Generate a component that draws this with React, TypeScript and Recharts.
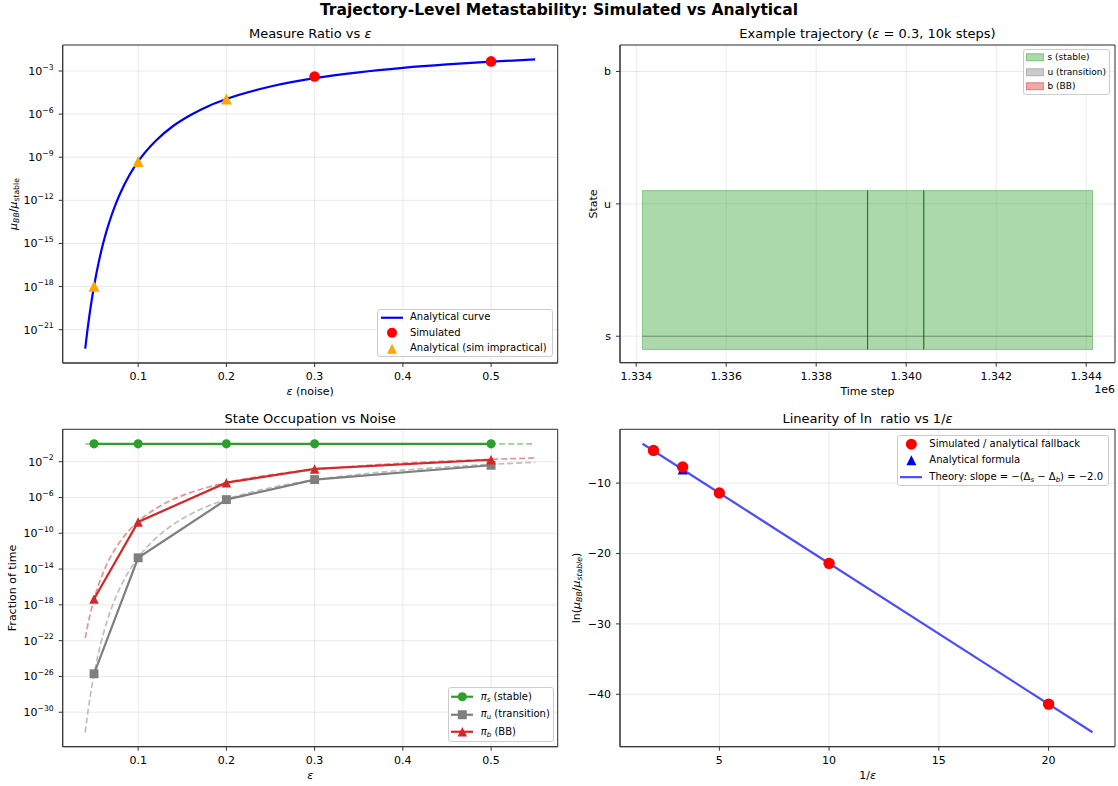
import React from "react"
import {
  ComposedChart,
  Line,
  Scatter,
  XAxis,
  YAxis,
  CartesianGrid,
  Legend,
  ReferenceArea,
  ReferenceLine,
} from "recharts"

const FONT = "'DejaVu Sans', sans-serif"
const PAGE_W = 1118
const PAGE_H = 786

// ---------- panel 1: measure ratio vs eps (values are log10 of mu_BB / mu_stable)
const epsCurve = [0.04, 0.0425, 0.045, 0.0475, 0.05, 0.055, 0.06, 0.065, 0.07, 0.075, 0.08, 0.09, 0.1, 0.12, 0.14, 0.16, 0.18, 0.2, 0.25, 0.3, 0.35, 0.4, 0.45, 0.5, 0.55]
const ratioCurveLog10 = [-22.32, -21.05, -19.91, -18.89, -17.98, -16.4, -15.08, -13.97, -13.02, -12.19, -11.47, -10.26, -9.29, -7.85, -6.81, -6.04, -5.43, -4.95, -4.08, -3.5, -3.09, -2.78, -2.54, -2.35, -2.19]
const epsSimulated = [0.3, 0.5]
const ratioSimulatedLog10 = [-3.38, -2.33]
const epsAnalytical = [0.05, 0.1, 0.2]
const ratioAnalyticalLog10 = [-17.98, -9.29, -4.95]

// ---------- panel 2: example trajectory
const segmentStarts = [1334140, 1339142, 1340390]
const segmentEnds = [1339142, 1340390, 1344140]
const segmentStates = [0, 0, 0]
const transitionTimes = [1339142, 1340390]
const stateLabels = ["s", "u", "b"]

// ---------- panel 3: state occupation (log10 of fraction of time)
const epsSim = [0.05, 0.1, 0.2, 0.3, 0.5]
const piSLog10 = [0, 0, 0, 0, 0]
const piULog10 = [-25.7, -12.74, -6.24, -4.0, -2.4]
const piBLog10 = [-17.35, -8.73, -4.34, -2.81, -1.78]
const epsStableTheory = [0.04, 0.55]
const piSTheoryLog10 = [0, 0]
const piUTheoryLog10 = [-32.27, -30.35, -28.65, -27.12, -25.75, -23.38, -21.41, -19.74, -18.31, -17.07, -15.98, -14.17, -12.72, -10.55, -9.0, -7.84, -6.93, -6.21, -4.91, -4.04, -3.42, -2.95, -2.59, -2.3, -2.07]
const piBTheoryLog10 = [-21.71, -20.44, -19.3, -18.29, -17.37, -15.79, -14.48, -13.36, -12.41, -11.58, -10.86, -9.65, -8.69, -7.24, -6.2, -5.43, -4.83, -4.34, -3.47, -2.9, -2.48, -2.17, -1.93, -1.74, -1.58]

// ---------- panel 4: ln ratio vs 1/eps
const invEpsSim = [2, 3.33, 5, 10, 20]
const lnRatioSim = [-5.35, -7.7, -11.4, -21.4, -41.4]
const invEpsAnalytic = [3.33]
const lnRatioAnalytic = [-8.07]
const invEpsTheory = [1.5, 22]
const lnRatioTheory = [-4.4, -45.4]

// ticks
const epsTicks = [0.1, 0.2, 0.3, 0.4, 0.5]
const ratioTickExps = [-21, -18, -15, -12, -9, -6, -3]
const occTickExps = [-30, -26, -22, -18, -14, -10, -6, -2]
const timeTicks = [1334000, 1336000, 1338000, 1340000, 1342000, 1344000]
const stateTicks = [0, 1, 2]
const invEpsTicks = [5, 10, 15, 20]
const lnTicks = [-40, -30, -20, -10]

const pts = (xs: number[], ys: number[]) => xs.map((x, i) => ({ x, y: ys[i] }))
const logPts = (xs: number[], ys: number[]) => xs.map((x, i) => ({ x, y: Math.pow(10, ys[i]) }))

// layout of the four axes boxes (page pixels)
const BOX1 = { x0: 62.7, y0: 45, x1: 557.7, y1: 363 }
const BOX2 = { x0: 620, y0: 45, x1: 1115, y1: 362.7 }
const BOX3 = { x0: 62.7, y0: 429.3, x1: 557.7, y1: 746.7 }
const BOX4 = { x0: 620, y0: 429.3, x1: 1115, y1: 746.7 }
const Y_AXIS_W = 50
const X_AXIS_H = 30
type Box = typeof BOX1
const marginFor = (b: Box) => ({
  top: b.y0,
  left: b.x0 - Y_AXIS_W,
  right: PAGE_W - b.x1,
  bottom: PAGE_H - b.y1 - X_AXIS_H,
})

const EPS_DOMAIN = [0.0145, 0.5755]
const RATIO_DOMAIN = [-23.32, -1.19].map((e) => Math.pow(10, e))
const OCC_DOMAIN = [-33.85, 1.62].map((e) => Math.pow(10, e))
const TIME_DOMAIN = [1333640, 1344640]
const STATE_DOMAIN = [-0.2, 2.2]
const INV_DOMAIN = [0.475, 23.025]
const LN_DOMAIN = [-47.45, -2.35]

const GREEN = "#2ca02c"
const GRAY = "#7f7f7f"
const RED = "#d62728"

const layer: React.CSSProperties = { position: "absolute", left: 0, top: 0 }
const tickStyle = { fontSize: 11, fill: "#000", fontFamily: FONT }
const axisBase = {
  type: "number" as const,
  allowDataOverflow: true,
  tickSize: 4,
  tickMargin: 5,
  axisLine: { stroke: "#333", strokeWidth: 1 },
  tickLine: { stroke: "#333", strokeWidth: 1 },
  tick: tickStyle,
}
const grid = <CartesianGrid stroke="#b0b0b0" strokeOpacity={0.3} strokeWidth={0.9} />

// box around the axes (top and right spines)
const frame = (xd: number[], yd: number[]) => (
  <ReferenceArea x1={xd[0]} x2={xd[1]} y1={yd[0]} y2={yd[1]} fill="none" fillOpacity={0} stroke="#333" strokeWidth={1} ifOverflow="visible" />
)

const minus = (v: number) => (v < 0 ? "\u2212" + Math.abs(v) : String(v))

const PowTick = (p: any) => {
  const e = Math.round(Math.log10(p.payload.value))
  return (
    <text x={p.x} y={p.y} dy={4} textAnchor="end" fontSize={11} fill="#000" fontFamily={FONT}>
      10
      <tspan dy={-5.5} fontSize={7.7}>
        {minus(e)}
      </tspan>
    </text>
  )
}

// markers
const Circle = ({ cx, cy, r, fill }: any) => <circle cx={cx} cy={cy} r={r} fill={fill} />
const Tri = ({ cx, cy, s, fill }: any) => (
  <polygon points={`${cx},${cy - s / 2} ${cx - s / 2},${cy + s / 2} ${cx + s / 2},${cy + s / 2}`} fill={fill} />
)
const Sq = ({ cx, cy, s, fill }: any) => <rect x={cx - s / 2} y={cy - s / 2} width={s} height={s} fill={fill} />

// legend pieces
const Sub = ({ children, italic = true }: any) => (
  <span style={{ fontSize: "0.7em", fontStyle: italic ? "italic" : "normal", position: "relative", top: "0.28em" }}>{children}</span>
)
const I = ({ children }: any) => <span style={{ fontStyle: "italic" }}>{children}</span>

type Row = { icon: (w: number, h: number) => React.ReactNode; label: React.ReactNode }
const LegendBox = ({ rows, fontSize, rowH, handleW, gap, padL, padR }: any) => (
  <div
    style={{
      background: "rgba(255,255,255,0.8)",
      border: "1px solid #cccccc",
      borderRadius: 3,
      padding: `0 ${padR}px 0 ${padL}px`,
      fontFamily: FONT,
      fontSize,
      color: "#000",
      lineHeight: 1,
      boxSizing: "border-box",
    }}
  >
    {rows.map((r: Row, i: number) => (
      <div key={i} style={{ display: "flex", alignItems: "center", height: rowH, whiteSpace: "nowrap" }}>
        <svg width={handleW} height={rowH} style={{ flex: "none" }}>
          {r.icon(handleW, rowH)}
        </svg>
        <span style={{ marginLeft: gap }}>{r.label}</span>
      </div>
    ))}
  </div>
)

const hLine = (color: string, sw: number, opacity = 1) => (w: number, h: number) => (
  <line x1={0} x2={w} y1={h / 2} y2={h / 2} stroke={color} strokeWidth={sw} strokeOpacity={opacity} />
)
const withMarker = (color: string, marker: (cx: number, cy: number) => React.ReactNode) => (w: number, h: number) => (
  <>
    <line x1={0} x2={w} y1={h / 2} y2={h / 2} stroke={color} strokeWidth={2.2} />
    {marker(w / 2, h / 2)}
  </>
)
const patch = (color: string) => (w: number, h: number) => (
  <rect x={0.5} y={h / 2 - 3.5} width={w - 1} height={7} fill={color} fillOpacity={0.4} stroke={color} strokeOpacity={0.5} />
)

const legendRows1: Row[] = [
  { icon: hLine("#0000ff", 2.2), label: "Analytical curve" },
  { icon: (w, h) => <Circle cx={w / 2} cy={h / 2} r={5} fill="#ff0000" />, label: "Simulated" },
  { icon: (w, h) => <Tri cx={w / 2} cy={h / 2} s={10} fill="#ffa500" />, label: "Analytical (sim impractical)" },
]
const legendRows2: Row[] = [
  { icon: patch(GREEN), label: "s (stable)" },
  { icon: patch(GRAY), label: "u (transition)" },
  { icon: patch(RED), label: "b (BB)" },
]
const legendRows3: Row[] = [
  { icon: withMarker(GREEN, (x, y) => <Circle cx={x} cy={y} r={4.6} fill={GREEN} />), label: <><I>π</I><Sub>s</Sub> (stable)</> },
  { icon: withMarker(GRAY, (x, y) => <Sq cx={x} cy={y} s={9} fill={GRAY} />), label: <><I>π</I><Sub>u</Sub> (transition)</> },
  { icon: withMarker(RED, (x, y) => <Tri cx={x} cy={y} s={9.5} fill={RED} />), label: <><I>π</I><Sub>b</Sub> (BB)</> },
]
const legendRows4: Row[] = [
  { icon: (w, h) => <Circle cx={w / 2} cy={h / 2} r={5.5} fill="#ff0000" />, label: "Simulated / analytical fallback" },
  { icon: (w, h) => <Tri cx={w / 2} cy={h / 2} s={10} fill="#0000ff" />, label: "Analytical formula" },
  {
    icon: hLine("#0000ff", 2.2, 0.7),
    label: (
      <>
        Theory: slope = −(Δ<Sub>s</Sub> − Δ<Sub>b</Sub>) = −2.0
      </>
    ),
  },
]

const panel1 = () => (
  <div style={layer}>
    <ComposedChart width={PAGE_W} height={PAGE_H} margin={marginFor(BOX1)}>
      {grid}
      <XAxis dataKey="x" {...axisBase} domain={EPS_DOMAIN} ticks={epsTicks} tickFormatter={(v: number) => v.toFixed(1)} height={X_AXIS_H} />
      <YAxis
        dataKey="y"
        {...axisBase}
        scale="log"
        domain={RATIO_DOMAIN}
        ticks={ratioTickExps.map((e) => Math.pow(10, e))}
        tick={(p: any) => <PowTick {...p} />}
        width={Y_AXIS_W}
      />
      {frame(EPS_DOMAIN, RATIO_DOMAIN)}
      <Line data={logPts(epsCurve, ratioCurveLog10)} dataKey="y" type="monotone" stroke="#0000ff" strokeWidth={2.2} dot={false} isAnimationActive={false} />
      <Scatter data={logPts(epsSimulated, ratioSimulatedLog10)} dataKey="y" isAnimationActive={false} shape={(p: any) => <Circle cx={p.cx} cy={p.cy} r={5.3} fill="#ff0000" />} />
      <Scatter data={logPts(epsAnalytical, ratioAnalyticalLog10)} dataKey="y" isAnimationActive={false} shape={(p: any) => <Tri cx={p.cx} cy={p.cy} s={11} fill="#ffa500" />} />
      <Legend
        layout="horizontal"
        verticalAlign="middle"
        align="center"
        wrapperStyle={{ right: PAGE_W - 552.7, bottom: PAGE_H - 357, width: "auto", height: "auto" }}
        content={() => <LegendBox rows={legendRows1} fontSize={10} rowH={15.5} handleW={22} gap={7.3} padL={2.4} padR={5} />}
      />
    </ComposedChart>
  </div>
)

const panel2 = () => (
  <div style={layer}>
    <ComposedChart width={PAGE_W} height={PAGE_H} margin={marginFor(BOX2)}>
      {grid}
      <XAxis
        dataKey="x"
        {...axisBase}
        domain={TIME_DOMAIN}
        ticks={timeTicks}
        tickFormatter={(v: number) => (v / 1e6).toFixed(3)}
        height={X_AXIS_H}
      />
      <YAxis dataKey="y" {...axisBase} domain={STATE_DOMAIN} ticks={stateTicks} tickFormatter={(v: number) => stateLabels[v]} width={Y_AXIS_W} />
      {segmentStarts.map((s, i) => (
        <ReferenceArea
          key={"seg" + i}
          x1={s}
          x2={segmentEnds[i]}
          y1={segmentStates[i] - 0.1}
          y2={segmentStates[i] + 1.1}
          fill={[GREEN, GRAY, RED][segmentStates[i]]}
          fillOpacity={0.4}
          stroke={[GREEN, GRAY, RED][segmentStates[i]]}
          strokeOpacity={0.45}
          strokeWidth={1}
        />
      ))}
      {frame(TIME_DOMAIN, STATE_DOMAIN)}
      {transitionTimes.map((t) => (
        <ReferenceLine key={"tr" + t} segment={[{ x: t, y: -0.1 }, { x: t, y: 1.1 }]} stroke="#2e5e2e" strokeOpacity={0.85} strokeWidth={1} />
      ))}
      <Line
        data={pts([segmentStarts[0], ...segmentEnds], [segmentStates[0], ...segmentStates])}
        dataKey="y"
        type="linear"
        stroke="#000"
        strokeOpacity={0.3}
        strokeWidth={1}
        dot={false}
        isAnimationActive={false}
      />
      <Legend
        layout="horizontal"
        verticalAlign="middle"
        align="center"
        wrapperStyle={{ right: PAGE_W - 1110, top: 49.3, width: "auto", height: "auto" }}
        content={() => <LegendBox rows={legendRows2} fontSize={9} rowH={14.5} handleW={18.4} gap={3.6} padL={2} padR={3} />}
      />
    </ComposedChart>
  </div>
)

const panel3 = () => (
  <div style={layer}>
    <ComposedChart width={PAGE_W} height={PAGE_H} margin={marginFor(BOX3)}>
      {grid}
      <XAxis dataKey="x" {...axisBase} domain={EPS_DOMAIN} ticks={epsTicks} tickFormatter={(v: number) => v.toFixed(1)} height={X_AXIS_H} />
      <YAxis
        dataKey="y"
        {...axisBase}
        scale="log"
        domain={OCC_DOMAIN}
        ticks={occTickExps.map((e) => Math.pow(10, e))}
        tick={(p: any) => <PowTick {...p} />}
        width={Y_AXIS_W}
      />
      {frame(EPS_DOMAIN, OCC_DOMAIN)}
      <Line data={logPts(epsStableTheory, piSTheoryLog10)} dataKey="y" stroke={GREEN} strokeOpacity={0.5} strokeWidth={1.7} strokeDasharray="6 3" dot={false} isAnimationActive={false} />
      <Line data={logPts(epsCurve, piUTheoryLog10)} dataKey="y" type="monotone" stroke={GRAY} strokeOpacity={0.5} strokeWidth={1.7} strokeDasharray="6 3" dot={false} isAnimationActive={false} />
      <Line data={logPts(epsCurve, piBTheoryLog10)} dataKey="y" type="monotone" stroke={RED} strokeOpacity={0.5} strokeWidth={1.7} strokeDasharray="6 3" dot={false} isAnimationActive={false} />
      <Line
        data={logPts(epsSim, piSLog10)}
        dataKey="y"
        stroke={GREEN}
        strokeWidth={2.2}
        isAnimationActive={false}
        dot={(p: any) => <Circle key={"s" + p.index} cx={p.cx} cy={p.cy} r={4.6} fill={GREEN} />}
      />
      <Line
        data={logPts(epsSim, piULog10)}
        dataKey="y"
        stroke={GRAY}
        strokeWidth={2.2}
        isAnimationActive={false}
        dot={(p: any) => <Sq key={"u" + p.index} cx={p.cx} cy={p.cy} s={8.9} fill={GRAY} />}
      />
      <Line
        data={logPts(epsSim, piBLog10)}
        dataKey="y"
        stroke={RED}
        strokeWidth={2.2}
        isAnimationActive={false}
        dot={(p: any) => <Tri key={"b" + p.index} cx={p.cx} cy={p.cy} s={9.5} fill={RED} />}
      />
      <Legend
        layout="horizontal"
        verticalAlign="middle"
        align="center"
        wrapperStyle={{ right: PAGE_W - 553.8, bottom: PAGE_H - 741.7, width: "auto", height: "auto" }}
        content={() => <LegendBox rows={legendRows3} fontSize={10} rowH={17.5} handleW={22.6} gap={7.6} padL={1.8} padR={3} />}
      />
    </ComposedChart>
  </div>
)

const panel4 = () => (
  <div style={layer}>
    <ComposedChart width={PAGE_W} height={PAGE_H} margin={marginFor(BOX4)}>
      {grid}
      <XAxis dataKey="x" {...axisBase} domain={INV_DOMAIN} ticks={invEpsTicks} height={X_AXIS_H} />
      <YAxis dataKey="y" {...axisBase} domain={LN_DOMAIN} ticks={lnTicks} tickFormatter={minus} width={Y_AXIS_W} />
      {frame(INV_DOMAIN, LN_DOMAIN)}
      <Line data={pts(invEpsTheory, lnRatioTheory)} dataKey="y" stroke="#0000ff" strokeOpacity={0.7} strokeWidth={2.2} dot={false} isAnimationActive={false} />
      <Scatter data={pts(invEpsAnalytic, lnRatioAnalytic)} dataKey="y" isAnimationActive={false} shape={(p: any) => <Tri cx={p.cx} cy={p.cy} s={10} fill="#0000ff" />} />
      <Scatter data={pts(invEpsSim, lnRatioSim)} dataKey="y" isAnimationActive={false} shape={(p: any) => <Circle cx={p.cx} cy={p.cy} r={5.7} fill="#ff0000" />} />
      <Legend
        layout="horizontal"
        verticalAlign="middle"
        align="center"
        wrapperStyle={{ right: PAGE_W - 1109, top: 435, width: "auto", height: "auto" }}
        content={() => <LegendBox rows={legendRows4} fontSize={10} rowH={16.3} handleW={22.7} gap={7} padL={2} padR={5} />}
      />
    </ComposedChart>
  </div>
)

const eps = <tspan fontStyle="italic">ε</tspan>

const Texts = () => (
  <svg style={{ ...layer, pointerEvents: "none" }} width={PAGE_W} height={PAGE_H} fontFamily={FONT} fill="#000">
    <text x={559} y={15} textAnchor="middle" fontSize={15.5} fontWeight="bold">
      Trajectory-Level Metastability: Simulated vs Analytical
    </text>
    <text x={310.2} y={38} textAnchor="middle" fontSize={13}>
      Measure Ratio vs {eps}
    </text>
    <text x={867.5} y={38} textAnchor="middle" fontSize={13}>
      Example trajectory ({eps} = 0.3, 10k steps)
    </text>
    <text x={310.2} y={423} textAnchor="middle" fontSize={13}>
      State Occupation vs Noise
    </text>
    <text x={867.5} y={423} textAnchor="middle" fontSize={13} style={{ whiteSpace: "pre" }}>
      {"Linearity of ln  ratio vs 1/"}
      {eps}
    </text>
    {/* x labels */}
    <text x={310.2} y={394.5} textAnchor="middle" fontSize={11}>
      {eps} (noise)
    </text>
    <text x={867.5} y={394.5} textAnchor="middle" fontSize={11}>
      Time step
    </text>
    <text x={1115} y={393} textAnchor="end" fontSize={11}>
      1e6
    </text>
    <text x={310.2} y={778.5} textAnchor="middle" fontSize={11}>
      {eps}
    </text>
    <text x={867.5} y={778.5} textAnchor="middle" fontSize={11}>
      1/{eps}
    </text>
    {/* y labels */}
    <text x={13.3} y={204} transform="rotate(-90 13.3 204)" textAnchor="middle" dominantBaseline="central" fontSize={11}>
      <tspan fontStyle="italic">μ</tspan>
      <tspan fontStyle="italic" fontSize={7.7} dy={2.5}>BB</tspan>
      <tspan dy={-2.5}>/</tspan>
      <tspan fontStyle="italic">μ</tspan>
      <tspan fontSize={7.7} dy={2.5}>stable</tspan>
    </text>
    <text x={593.8} y={204} transform="rotate(-90 593.8 204)" textAnchor="middle" dominantBaseline="central" fontSize={11}>
      State
    </text>
    <text x={12.5} y={588} transform="rotate(-90 12.5 588)" textAnchor="middle" dominantBaseline="central" fontSize={11}>
      Fraction of time
    </text>
    <text x={576} y={588} transform="rotate(-90 576 588)" textAnchor="middle" dominantBaseline="central" fontSize={11}>
      ln(
      <tspan fontStyle="italic">μ</tspan>
      <tspan fontStyle="italic" fontSize={7.7} dy={2.5}>BB</tspan>
      <tspan dy={-2.5}>/</tspan>
      <tspan fontStyle="italic">μ</tspan>
      <tspan fontStyle="italic" fontSize={7.7} dy={2.5}>stable</tspan>
      <tspan dy={-2.5}>)</tspan>
    </text>
  </svg>
)

export default function App() {
  const P1 = panel1
  const P2 = panel2
  const P3 = panel3
  const P4 = panel4
  return (
    <div style={{ position: "absolute", left: 0, top: 0, width: PAGE_W, height: PAGE_H, background: "#fff", fontFamily: FONT }}>
      <P1 />
      <P2 />
      <P3 />
      <P4 />
      <Texts />
    </div>
  )
}
